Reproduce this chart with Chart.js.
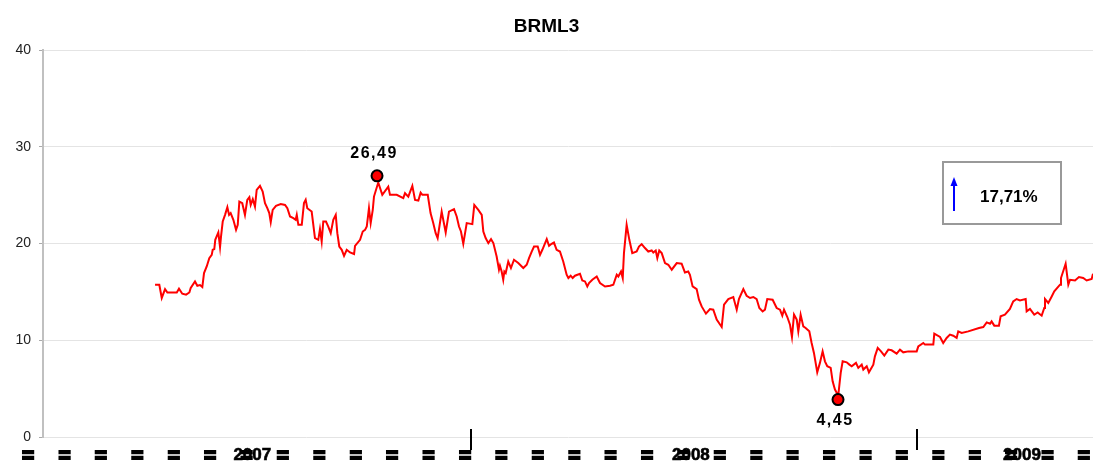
<!DOCTYPE html>
<html><head><meta charset="utf-8">
<script src="https://cdn.jsdelivr.net/npm/chart.js@4/dist/chart.umd.min.js"></script>
<style>html,body{margin:0;padding:0;background:#fff}#wrap{width:1093px;height:465px}</style>
</head><body><div id="wrap"><canvas id="c" width="1093" height="465"></canvas></div>
<script>
const chartTitle = "BRML3";
// trading dates as days since 2007-01-01
const days = [106.4,109.9,111.9,114.6,116.5,124.2,126.0,128.7,131.8,134.5,135.6,139.1,141.0,143.2,145.1,146.5,148.7,150.8,152.8,153.6,154.9,155.7,158.2,159.6,160.4,161.8,163.7,165.6,167.0,168.3,170.5,172.7,174.1,175.4,177.8,180.0,181.9,183.6,184.7,186.4,188.2,189.6,192.3,194.5,196.4,198.3,199.9,201.1,202.7,205.4,209.3,212.8,214.7,216.9,219.6,221.5,222.4,223.7,226.5,228.3,229.7,231.0,234.6,237.3,240.0,241.4,242.8,244.1,246.3,248.2,250.2,252.3,254.3,255.6,257.2,259.2,261.1,263.3,266.0,269.3,270.1,274.2,276.4,278.3,279.7,281.5,282.9,284.6,285.6,289.1,292.4,297.3,298.7,304.2,309.6,311.0,313.7,317.0,319.2,321.9,323.8,325.2,329.6,331.9,334.1,336.1,337.7,341.0,344.3,347.0,351.1,353.3,355.2,356.8,358.7,361.5,366.1,367.7,371.0,373.8,375.1,377.0,379.2,381.4,383.3,386.0,387.9,388.7,390.1,391.4,392.3,393.4,395.5,397.7,400.2,403.7,407.8,410.6,412.5,414.7,416.6,419.6,421.5,423.4,427.0,428.9,431.0,432.9,435.1,437.8,440.5,443.3,444.7,446.6,448.2,450.1,454.2,456.1,458.3,460.2,461.6,464.3,467.9,470.6,474.7,478.8,481.5,484.3,485.6,487.8,489.2,490.2,492.4,494.6,497.0,500.6,502.5,504.7,507.4,510.1,512.9,514.2,516.2,517.5,519.1,521.1,523.8,526.5,529.3,533.4,537.4,540.1,542.8,544.2,546.4,549.7,551.6,553.8,557.3,560.6,563.3,566.1,570.2,572.1,575.6,579.7,582.5,584.3,587.9,590.6,593.4,596.1,598.8,601.0,603.7,605.6,607.5,611.9,615.2,617.9,619.8,621.2,623.9,626.1,627.7,629.4,631.6,632.9,634.8,637.0,638.9,641.9,643.8,645.7,648.4,650.6,652.8,654.7,656.6,659.4,661.0,662.9,665.6,667.6,669.2,672.5,674.7,676.6,680.1,682.0,684.8,686.1,688.9,690.7,694.3,695.6,697.9,700.6,703.3,706.6,709.3,713.4,716.1,718.8,722.9,729.8,731.1,735.2,736.6,743.4,744.2,748.9,751.5,754.3,757.0,759.7,762.5,763.8,766.6,772.0,780.8,784.3,787.1,789.8,791.1,793.3,797.1,798.5,802.0,806.1,808.8,811.6,814.3,819.0,819.8,822.5,826.0,828.8,832.1,834.2,834.8,837.5,840.3,842.4,847.1,847.9,851.7,853.9,855.3,859.4,862.6,866.1,868.9,873.0,874.1];
const prices = [15.74,15.74,14.37,15.29,14.94,14.94,15.33,14.81,14.71,14.94,15.40,16.08,15.63,15.71,15.50,16.95,17.63,18.49,18.83,19.35,19.42,20.38,21.14,19.63,20.72,22.27,22.96,23.76,22.96,23.14,22.45,21.41,21.93,24.33,24.17,22.96,24.51,24.79,23.99,24.58,23.82,25.54,25.95,25.37,24.17,23.65,23.14,22.21,23.48,23.89,24.07,23.99,23.65,22.79,22.62,22.45,22.96,21.93,21.93,24.17,24.51,23.65,23.30,20.56,20.38,21.49,20.21,22.27,22.27,21.75,21.07,22.45,22.96,21.07,19.69,19.35,18.73,19.35,19.07,18.91,19.76,20.38,21.24,21.41,21.75,23.65,22.11,23.48,24.85,26.30,25.03,25.88,25.03,25.03,24.69,25.20,24.85,25.95,24.51,24.44,25.26,25.03,25.03,23.14,22.11,21.07,20.56,23.30,21.14,23.30,23.55,22.79,21.75,21.24,19.97,22.11,22.00,23.99,23.48,22.96,21.24,20.56,20.04,20.45,20.04,18.66,17.29,17.70,17.11,16.25,17.11,16.95,18.14,17.46,18.32,17.98,17.46,17.80,18.49,19.17,19.69,19.69,18.83,19.35,20.45,19.76,19.97,20.10,19.35,19.17,18.14,16.77,16.43,16.67,16.43,16.67,16.87,16.18,16.08,15.56,15.91,16.25,16.59,15.91,15.56,15.63,15.74,16.77,16.59,17.11,16.43,19.01,21.93,20.38,19.01,19.17,19.69,19.94,19.53,19.17,19.28,19.07,19.28,18.49,19.28,19.01,17.98,17.80,17.29,17.98,17.91,17.01,17.11,16.77,15.56,15.29,14.19,13.50,12.75,13.23,13.16,12.13,11.37,13.67,14.26,14.47,13.16,14.26,15.29,14.60,14.37,14.47,14.26,13.33,12.98,13.16,14.26,14.19,13.33,13.16,12.54,13.16,12.40,11.61,10.34,12.64,12.13,10.92,12.64,11.43,11.27,10.92,9.72,8.69,6.69,7.66,8.85,7.82,7.31,7.14,5.76,4.90,4.28,6.63,7.82,7.72,7.48,7.31,7.66,7.14,7.48,6.97,7.31,6.69,7.48,8.34,9.21,8.85,8.41,9.03,8.96,8.62,9.03,8.75,8.85,8.85,9.37,9.72,9.55,9.55,10.68,10.34,9.72,10.24,10.58,10.47,10.24,10.92,10.75,10.92,11.27,11.37,11.85,11.71,11.95,11.51,11.51,12.47,12.64,13.23,14.01,14.26,14.12,14.26,12.98,13.23,12.64,12.88,12.54,13.33,14.26,13.85,14.53,15.05,15.74,16.43,17.91,15.74,16.25,16.18,16.53,16.43,16.18,16.33,16.87];
const extremeDays = [288.1, 665.4];
const extremeValues = [26.99, 3.87];
const extremeLabels = ["26,49", "4,45"];
const yTickStep = 10;
const yMin = 0, yMax = 40;
const xMinDay = 14.7, xMaxDay = 874.1;
const monthTickDays = Array.from({length: 30}, (_, k) => 2.5 + 29.8 * k);
const monthTickLabels = Array(30).fill("=");
const yearLabels = ["2007", "2008", "2009"];
const yearLabelDays = [186, 545, 816];
const yearBoundaryDays = [365, 730];
const changeText = "17,71%";

const FONT = "Arial, 'Liberation Sans', sans-serif";

const deco = {
  id: 'deco',
  afterDraw(chart) {
    const ctx = chart.ctx;
    const xs = chart.scales.x;
    ctx.save();
    // title
    ctx.fillStyle = '#000';
    ctx.font = 'bold 19px ' + FONT;
    ctx.textAlign = 'center';
    ctx.textBaseline = 'middle';
    ctx.fillText(chartTitle, chart.width / 2, 27);

    // month labels (garbled in source)
    ctx.font = 'bold 20px ' + FONT;
    ctx.strokeStyle = '#000';
    ctx.lineWidth = 2.2;
    monthTickDays.forEach((d, i) => {
      const px = xs.getPixelForValue(d);
      ctx.fillText(monthTickLabels[i], px, 456);
      ctx.strokeText(monthTickLabels[i], px, 456);
    });
    // year labels
    ctx.font = 'bold 17px ' + FONT;
    ctx.lineWidth = 0.6;
    yearLabels.forEach((t, i) => {
      const px = xs.getPixelForValue(yearLabelDays[i]);
      ctx.fillText(t, px, 455);
      ctx.strokeText(t, px, 455);
    });
    // year boundary ticks
    ctx.strokeStyle = '#000';
    ctx.lineWidth = 2;
    yearBoundaryDays.forEach(d => {
      const px = Math.round(xs.getPixelForValue(d));
      ctx.beginPath(); ctx.moveTo(px, 429); ctx.lineTo(px, 450); ctx.stroke();
    });

    // extreme labels
    const meta = chart.getDatasetMeta(1);
    ctx.font = 'bold 16px ' + FONT;
    if ('letterSpacing' in ctx) ctx.letterSpacing = '1.5px';
    meta.data.forEach((el, i) => {
      const dy = i === 0 ? -22 : 21;
      ctx.fillText(extremeLabels[i], el.x - 3, el.y + dy);
    });
    if ('letterSpacing' in ctx) ctx.letterSpacing = '0px';

    // change box
    const bx = 943, by = 162, bw = 118, bh = 62;
    ctx.fillStyle = '#fff';
    ctx.fillRect(bx, by, bw, bh);
    ctx.strokeStyle = '#999';
    ctx.lineWidth = 2;
    ctx.strokeRect(bx, by, bw, bh);
    // arrow
    ctx.strokeStyle = '#0000ff';
    ctx.fillStyle = '#0000ff';
    ctx.lineWidth = 2;
    ctx.beginPath(); ctx.moveTo(954, 211); ctx.lineTo(954, 184); ctx.stroke();
    ctx.beginPath(); ctx.moveTo(954, 177); ctx.lineTo(950.5, 186); ctx.lineTo(957.5, 186); ctx.closePath(); ctx.fill();
    // text
    ctx.fillStyle = '#000';
    ctx.font = 'bold 17px ' + FONT;
    ctx.textAlign = 'left';
    ctx.fillText(changeText, 980, 197);
    ctx.restore();
  }
};

new Chart(document.getElementById('c'), {
  type: 'line',
  data: {
    datasets: [
      {
        data: days.map((d, i) => ({x: d, y: prices[i]})),
        borderColor: '#ff0000', borderWidth: 2, pointRadius: 0, tension: 0, fill: false, order: 2
      },
      {
        data: extremeDays.map((d, i) => ({x: d, y: extremeValues[i]})),
        showLine: false, pointRadius: 5.5, pointBackgroundColor: '#ff0000',
        pointBorderColor: '#000', pointBorderWidth: 2, order: 1, clip: false
      }
    ]
  },
  options: {
    responsive: false,
    animation: false,
    devicePixelRatio: 1,
    layout: {autoPadding: false, padding: {top: 50, left: 0, right: 0, bottom: 0}},
    plugins: {legend: {display: false}, tooltip: {enabled: false}, title: {display: false}},
    scales: {
      x: {
        type: 'linear', min: xMinDay, max: xMaxDay,
        ticks: {display: false},
        grid: {display: false},
        border: {display: false},
        afterFit(s) { s.height = 28; s.paddingLeft = 0; s.paddingRight = 0; }
      },
      y: {
        min: yMin, max: yMax,
        ticks: {stepSize: yTickStep, color: '#222', font: {size: 14, family: FONT}, padding: 8},
        grid: {color: '#e4e4e4', lineWidth: 1, tickColor: '#aaa', tickLength: 4, drawTicks: true},
        border: {color: '#c0c0c0', width: 2},
        afterFit(s) { s.width = 43; s.paddingTop = 0; s.paddingBottom = 0; }
      }
    }
  },
  plugins: [deco]
});
</script>
</body></html>
